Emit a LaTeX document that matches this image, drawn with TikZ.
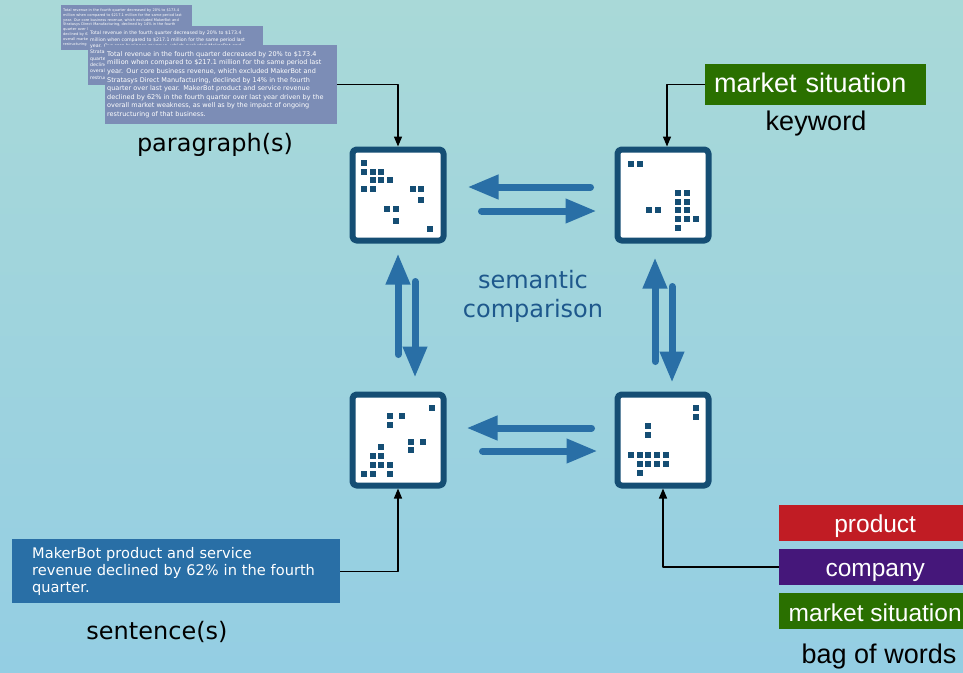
\documentclass[tikz,border=0pt]{standalone}
\usepackage{fontspec}
\setmainfont{DejaVu Sans}
\newfontfamily\helv{Liberation Sans}
\usetikzlibrary{arrows.meta,positioning}
\definecolor{matblue}{HTML}{154E74}
\definecolor{arrblue}{HTML}{296FA6}
\definecolor{parblue}{HTML}{7C8DB6}
\definecolor{semblue}{HTML}{1E588C}
\definecolor{wred}{HTML}{C11C24}
\definecolor{wpurple}{HTML}{45177A}
\definecolor{wgreen}{HTML}{2A7000}
\definecolor{bgtop}{HTML}{A9D9D8}
\definecolor{bgbot}{HTML}{94CEE3}
% the quarterly report text, set three times at different sizes
\newcommand{\revenuetext}{Total revenue in the fourth quarter decreased by 20\% to \$173.4\\
million when compared to \$217.1 million for the same period last\\
year. Our core business revenue, which excluded MakerBot and\\
Stratasys Direct Manufacturing, declined by 14\% in the fourth\\
quarter over last year. MakerBot product and service revenue\\
declined by 62\% in the fourth quarter over last year driven by the\\
overall market weakness, as well as by the impact of ongoing\\
restructuring of that business.}
\begin{document}
\begin{tikzpicture}[x=1pt, y=-1pt, line join=round,
    mtx/.style={draw=matblue, line width=6pt, fill=white, rounded corners=4pt, minimum size=91pt, inner sep=0pt},
    flow/.style={arrblue, line width=7pt, line cap=round, -{Triangle[length=31pt,width=23pt]}},
    feed/.style={black, line width=1.4pt, -{Triangle[length=10pt,width=8pt]}},
    parbox/.style={fill=parblue, text=white, align=left, anchor=north west, inner xsep=2pt},
    wordbox/.style={fill=#1, text=white, anchor=west, inner xsep=0pt},
    capt/.style={font=\fontsize{24}{28}\selectfont}]
    \shade[top color=bgtop, bottom color=bgbot] (0,0) rectangle (963,672);
    \useasboundingbox (0,0) rectangle (963,672);
    % stacked paragraphs
    \node[parbox, font=\fontsize{3.6}{4.9}\selectfont, text width=127pt, minimum height=44pt] (par1) at (61,5) {\revenuetext};
    \node[parbox, font=\fontsize{4.7}{6.3}\selectfont, text width=171pt, minimum height=59pt] (par2) at (88,26) {\revenuetext};
    \node[parbox, font=\fontsize{6.5}{8.6}\selectfont, text width=228pt, minimum height=79pt] (par3) at (105,45) {\revenuetext};
    \node[capt] (parcap) at (215,145) {paragraph(s)};
    % single sentence
    \node[fill=arrblue, text=white, align=left, anchor=north west, text width=288pt, inner xsep=20pt, minimum height=64pt, font=\fontsize{14.6}{17}\selectfont] (sent) at (12,539) {MakerBot product and service\\ revenue declined by 62\% in the fourth\\ quarter.};
    \node[capt] (sentcap) at (157,632) {sentence(s)};
    % keyword
    \node[wordbox=wgreen, text width=203pt, align=left, inner xsep=9pt, font=\helv\fontsize{27}{30}\selectfont, text height=24pt, text depth=8pt, inner ysep=4.5pt] (kw) at (705,84.5) {market situation};
    \node[font=\helv\fontsize{27}{30}\selectfont] (kwcap) at (816,124) {keyword};
    % bag of words
    \tikzset{bag/.style={wordbox=#1, minimum width=192pt, font=\helv\fontsize{24.5}{28}\selectfont, text height=24pt, text depth=4pt, inner ysep=4pt}}
    \node[bag=wred] (w1) at (779,522.5) {product};
    \node[bag=wpurple, below=8pt of w1] (w2) {company};
    \node[bag=wgreen, below=8pt of w2] (w3) {market situation};
    \node[font=\helv\fontsize{27}{30}\selectfont] (bagcap) at (879,657) {bag of words};
    % embedding matrices
    \node[mtx] (tl) at (398,195) {};
    \node[mtx] (tr) at (663,195) {};
    \node[mtx] (bl) at (398,440) {};
    \node[mtx] (br) at (663,440) {};
    \foreach \dx/\dy in {-34/-32, -34/-23, -25/-23, -17/-23, -25/-15, -17/-15, -8/-15, -34/-6, -25/-6, 15/-6, 23/-6, 23/5, -11/14, -2/14, -2/26, 32/34}
        \fill[matblue] ([shift={(\dx,\dy)}]tl.center) +(-3.25,-3.25) rectangle +(3.25,3.25);
    \foreach \dx/\dy in {-32/-31, -23/-31, 15/-2, 24/-2, 15/7, 24/7, -14/15, -5/15, 15/15, 24/15, 15/24, 24/24, 33/24, 15/33}
        \fill[matblue] ([shift={(\dx,\dy)}]tr.center) +(-3.25,-3.25) rectangle +(3.25,3.25);
    \foreach \dx/\dy in {34/-32, -8/-24, 4/-24, -8/-15, 13/2, 25/2, 13/10, -17/7, -25/16, -17/16, -25/25, -17/25, -8/25, -34/34, -25/34, -8/34}
        \fill[matblue] ([shift={(\dx,\dy)}]bl.center) +(-3.25,-3.25) rectangle +(3.25,3.25);
    \foreach \dx/\dy in {33/-32, 33/-23, -15/-14, -15/-5, -32/15, -23/15, -15/15, -6/15, 3/15, -23/24, -15/24, -6/24, 3/24, -23/33}
        \fill[matblue] ([shift={(\dx,\dy)}]br.center) +(-3.25,-3.25) rectangle +(3.25,3.25);
    % comparison arrows
    \draw[flow, shorten <=24pt, shorten >=21pt] ([yshift=8pt]tr.west) -- ([yshift=8pt]tl.east);
    \draw[flow, shorten <=35pt, shorten >=18pt] ([yshift=-16pt]tl.east) -- ([yshift=-16pt]tr.west);
    \draw[flow, shorten <=23pt, shorten >=20pt] ([yshift=12pt]br.west) -- ([yshift=12pt]bl.east);
    \draw[flow, shorten <=36pt, shorten >=17pt] ([yshift=-11pt]bl.east) -- ([yshift=-11pt]br.west);
    \draw[flow, shorten <=37pt, shorten >=10pt] (bl.north) -- (tl.south);
    \draw[flow, shorten <=38pt, shorten >=14pt] ([xshift=17pt]tl.south) -- ([xshift=17pt]bl.north);
    \draw[flow, shorten <=30pt, shorten >=14pt] ([xshift=-8pt]br.north) -- ([xshift=-8pt]tr.south);
    \draw[flow, shorten <=43pt, shorten >=9pt] ([xshift=9pt]tr.south) -- ([xshift=9pt]br.north);
    \node[text=semblue, align=center, font=\fontsize{24}{29}\selectfont] (sem) at (533,296) {semantic\\comparison};
    % inputs into the matrices
    \draw[feed] (par3.east) -| (tl.north);
    \draw[feed] (kw.west) -| ([xshift=4pt]tr.north);
    \draw[feed] (sent.east) -| (bl.south);
    \draw[feed] (w2.west) -| (br.south);
\end{tikzpicture}
\end{document}
